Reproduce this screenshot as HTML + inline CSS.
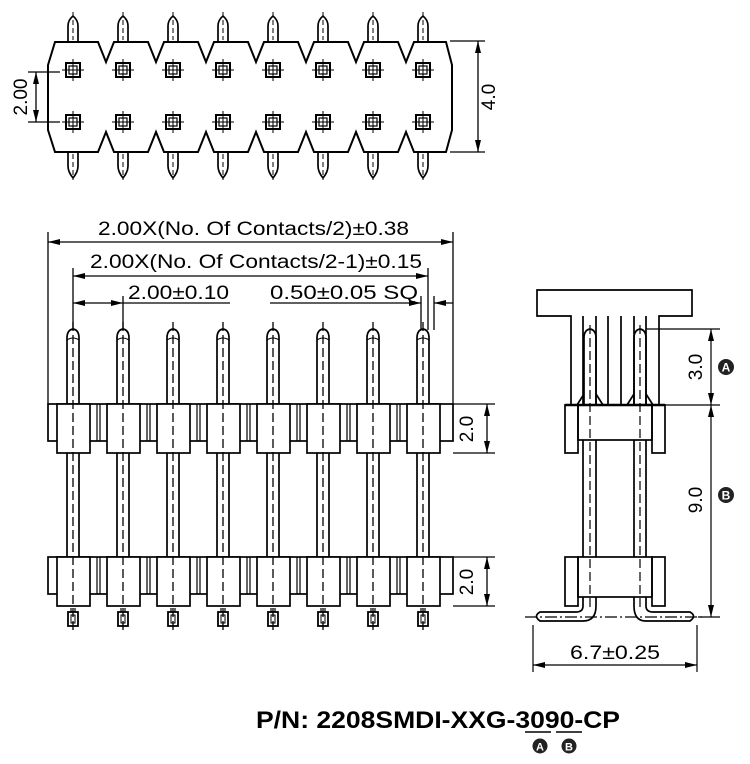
<!DOCTYPE html>
<html><head><meta charset="utf-8"><style>
html,body{margin:0;padding:0;background:#fff;}
svg{display:block;}
text{font-family:"Liberation Sans",Arial,sans-serif;fill:#000;}
</style></head><body>
<svg width="750" height="764" viewBox="0 0 750 764" xmlns="http://www.w3.org/2000/svg">
<defs>
<marker id="ar" viewBox="0 0 12 6" refX="12" refY="3" markerWidth="12" markerHeight="6" orient="auto-start-reverse" markerUnits="userSpaceOnUse"><path d="M0,0L12,3L0,6z" fill="#000"/></marker>
<g id="tp" stroke="#000" fill="none" stroke-width="1.7">
<path d="M-5,42 V26 Q-5,20 0,16 Q5,20 5,26 V42"/>
<path d="M-5,152 V166 Q-5,172 0,178 Q5,172 5,166 V152"/>
<line x1="0" y1="12" x2="0" y2="40" stroke-dasharray="5,3" stroke-width="1"/>
<line x1="0" y1="154" x2="0" y2="180" stroke-dasharray="5,3" stroke-width="1"/>
<rect x="-7" y="63" width="14" height="14" stroke-width="2"/>
<rect x="-4" y="66" width="8" height="8" stroke-width="1.2"/>
<line x1="-11" y1="70" x2="11" y2="70" stroke-width="1"/>
<line x1="0" y1="59" x2="0" y2="81" stroke-width="1"/>
<rect x="-7" y="115" width="14" height="14" stroke-width="2"/>
<rect x="-4" y="118" width="8" height="8" stroke-width="1.2"/>
<line x1="-11" y1="122" x2="11" y2="122" stroke-width="1"/>
<line x1="0" y1="111" x2="0" y2="133" stroke-width="1"/>
</g>
<g id="fp" stroke="#000" fill="none" stroke-width="1.7">
<path d="M-6,404 V338 Q-6,330 0,329 Q6,330 6,338 V404"/>
<path d="M-6,340 Q0,336 6,340" stroke-width="1"/>
<rect x="-16" y="404" width="33" height="49" fill="#fff"/>
<line x1="-6" y1="453" x2="-6" y2="557"/>
<line x1="6" y1="453" x2="6" y2="557"/>
<rect x="-16" y="557" width="33" height="49" fill="#fff"/>
<rect x="-5" y="612" width="10" height="14" stroke-width="1.8"/>
<rect x="-2" y="615" width="4" height="8" stroke-width="1"/>
<line x1="0" y1="322" x2="0" y2="634" stroke-dasharray="9,4" stroke-width="1.3"/>
<line x1="-2" y1="608" x2="-2" y2="612" stroke-width="1.2"/>
<line x1="2" y1="608" x2="2" y2="612" stroke-width="1.2"/>
</g>
</defs>

<path d="M55,42 L98,42 L106,62 L114,42 L148,42 L156,62 L164,42 L198,42 L206,62 L214,42 L248,42 L256,62 L264,42 L298,42 L306,62 L314,42 L348,42 L356,62 L364,42 L398,42 L406,62 L414,42 L446,42 L452,65 L452,130 L446,152 L414,152 L406,132 L398,152 L364,152 L356,132 L348,152 L314,152 L306,132 L298,152 L264,152 L256,132 L248,152 L214,152 L206,132 L198,152 L164,152 L156,132 L148,152 L114,152 L106,132 L98,152 L55,152 L48,130 L48,65 Z" fill="none" stroke="#000" stroke-width="2"/>
<use href="#tp" x="73"/><use href="#tp" x="123"/><use href="#tp" x="173"/><use href="#tp" x="223"/>
<use href="#tp" x="273"/><use href="#tp" x="323"/><use href="#tp" x="373"/><use href="#tp" x="423"/>
<g stroke="#000" stroke-width="1.3">
<line x1="28" y1="72" x2="60" y2="72"/><line x1="28" y1="122" x2="60" y2="122"/>
<line x1="36" y1="72" x2="36" y2="122" marker-start="url(#ar)" marker-end="url(#ar)"/>
<line x1="450" y1="41" x2="485" y2="41"/><line x1="450" y1="152" x2="485" y2="152"/>
<line x1="478" y1="41" x2="478" y2="152" marker-start="url(#ar)" marker-end="url(#ar)"/>
</g>
<text font-size="19" transform="translate(27,97) rotate(-90)" text-anchor="middle">2.00</text>
<text font-size="19" transform="translate(495,97) rotate(-90)" text-anchor="middle">4.0</text>

<rect x="48" y="404" width="405" height="37" fill="none" stroke="#000" stroke-width="1.7"/>
<rect x="48" y="557" width="405" height="37" fill="none" stroke="#000" stroke-width="1.7"/>
<g stroke="#000" stroke-width="1.2">
<line x1="97" y1="404" x2="97" y2="441"/><line x1="100" y1="404" x2="100" y2="441"/>
<line x1="147" y1="404" x2="147" y2="441"/><line x1="150" y1="404" x2="150" y2="441"/>
<line x1="197" y1="404" x2="197" y2="441"/><line x1="200" y1="404" x2="200" y2="441"/>
<line x1="247" y1="404" x2="247" y2="441"/><line x1="250" y1="404" x2="250" y2="441"/>
<line x1="297" y1="404" x2="297" y2="441"/><line x1="300" y1="404" x2="300" y2="441"/>
<line x1="347" y1="404" x2="347" y2="441"/><line x1="350" y1="404" x2="350" y2="441"/>
<line x1="397" y1="404" x2="397" y2="441"/><line x1="400" y1="404" x2="400" y2="441"/>
<line x1="97" y1="557" x2="97" y2="594"/><line x1="100" y1="557" x2="100" y2="594"/>
<line x1="147" y1="557" x2="147" y2="594"/><line x1="150" y1="557" x2="150" y2="594"/>
<line x1="197" y1="557" x2="197" y2="594"/><line x1="200" y1="557" x2="200" y2="594"/>
<line x1="247" y1="557" x2="247" y2="594"/><line x1="250" y1="557" x2="250" y2="594"/>
<line x1="297" y1="557" x2="297" y2="594"/><line x1="300" y1="557" x2="300" y2="594"/>
<line x1="347" y1="557" x2="347" y2="594"/><line x1="350" y1="557" x2="350" y2="594"/>
<line x1="397" y1="557" x2="397" y2="594"/><line x1="400" y1="557" x2="400" y2="594"/>
</g>
<use href="#fp" x="73"/><use href="#fp" x="123"/><use href="#fp" x="173"/><use href="#fp" x="223"/>
<use href="#fp" x="273"/><use href="#fp" x="323"/><use href="#fp" x="373"/><use href="#fp" x="423"/>

<g stroke="#000" stroke-width="1.3" fill="none">
<line x1="48" y1="232" x2="48" y2="404"/><line x1="453" y1="232" x2="453" y2="404"/>
<line x1="48" y1="242" x2="453" y2="242" marker-start="url(#ar)" marker-end="url(#ar)"/>
<line x1="73" y1="268" x2="73" y2="330"/><line x1="428" y1="268" x2="428" y2="330"/>
<line x1="73" y1="276" x2="428" y2="276" marker-start="url(#ar)" marker-end="url(#ar)"/>
<line x1="123" y1="296" x2="123" y2="330"/>
<line x1="73" y1="303" x2="123" y2="303" marker-start="url(#ar)" marker-end="url(#ar)"/>
<line x1="123" y1="303" x2="230" y2="303"/>
<line x1="270" y1="303" x2="421" y2="303" marker-end="url(#ar)"/>
<line x1="434" y1="303" x2="453" y2="303" marker-start="url(#ar)"/>
<line x1="421" y1="296" x2="421" y2="330"/><line x1="434" y1="296" x2="434" y2="330"/>
<line x1="453" y1="404" x2="495" y2="404"/><line x1="453" y1="453" x2="495" y2="453"/>
<line x1="487" y1="404" x2="487" y2="453" marker-start="url(#ar)" marker-end="url(#ar)"/>
<line x1="453" y1="557" x2="495" y2="557"/><line x1="453" y1="606" x2="495" y2="606"/>
<line x1="487" y1="557" x2="487" y2="606" marker-start="url(#ar)" marker-end="url(#ar)"/>
</g>
<text x="98" y="235" font-size="19" textLength="311" lengthAdjust="spacingAndGlyphs">2.00X(No. Of Contacts/2)±0.38</text>
<text x="90" y="268" font-size="19" textLength="332" lengthAdjust="spacingAndGlyphs">2.00X(No. Of Contacts/2-1)±0.15</text>
<text x="128" y="299" font-size="19" textLength="101" lengthAdjust="spacingAndGlyphs">2.00±0.10</text>
<text x="270" y="299" font-size="19" textLength="148" lengthAdjust="spacingAndGlyphs">0.50±0.05 SQ</text>
<text font-size="19" transform="translate(473,429) rotate(-90)" text-anchor="middle">2.0</text>
<text font-size="19" transform="translate(473,582) rotate(-90)" text-anchor="middle">2.0</text>

<g stroke="#000" stroke-width="1.7" fill="none">
<path d="M571,405 V316 H537 V290 H692 V316 H659 V405"/>
<line x1="583" y1="316" x2="583" y2="405"/><line x1="596" y1="316" x2="596" y2="405"/>
<line x1="608" y1="316" x2="608" y2="405"/><line x1="621" y1="316" x2="621" y2="405"/>
<line x1="634" y1="316" x2="634" y2="405"/><line x1="646" y1="316" x2="646" y2="405"/>
<path d="M584,405 V338 Q584,330 590,329 Q596,330 596,338 V405"/>
<path d="M634,405 V338 Q634,330 640,329 Q646,330 646,338 V405"/>
<path d="M577,405 L584,394 M603,405 L596,394 M627,405 L634,394 M653,405 L646,394"/>
<line x1="565" y1="405" x2="665" y2="405" stroke-width="2.6"/>
<rect x="565" y="405" width="13" height="48"/><rect x="652" y="405" width="13" height="48"/>
<rect x="578" y="405" width="74" height="35"/>
<line x1="583" y1="440" x2="583" y2="557"/><line x1="596" y1="440" x2="596" y2="557"/>
<line x1="634" y1="440" x2="634" y2="557"/><line x1="646" y1="440" x2="646" y2="557"/>
<rect x="565" y="557" width="13" height="49"/><rect x="652" y="557" width="13" height="49"/>
<rect x="578" y="557" width="74" height="40"/>
<path d="M583,597 V606 Q583,612 576,612 H540 Q533,616 540,621 H583 Q596,621 596,606 V597"/>
<path d="M646,597 V606 Q646,612 653,612 H690 Q697,616 690,621 H646 Q634,621 634,606 V597"/>
</g>
<g stroke="#000" stroke-width="1.2" fill="none">
<line x1="590" y1="325" x2="590" y2="608" stroke-dasharray="9,4"/>
<line x1="640" y1="325" x2="640" y2="608" stroke-dasharray="9,4"/>
<line x1="525" y1="617" x2="705" y2="617" stroke-dasharray="12,3,2,3"/>
<line x1="646" y1="329" x2="720" y2="329"/>
<line x1="665" y1="405" x2="720" y2="405"/>
<line x1="698" y1="617" x2="720" y2="617"/>
<line x1="711" y1="329" x2="711" y2="405" marker-start="url(#ar)" marker-end="url(#ar)"/>
<line x1="711" y1="405" x2="711" y2="617" marker-start="url(#ar)" marker-end="url(#ar)"/>
<line x1="533" y1="625" x2="533" y2="672"/><line x1="697" y1="625" x2="697" y2="672"/>
<line x1="533" y1="665" x2="697" y2="665" marker-start="url(#ar)" marker-end="url(#ar)"/>
</g>
<text font-size="19" transform="translate(702,367) rotate(-90)" text-anchor="middle">3.0</text>
<text font-size="19" transform="translate(702,500) rotate(-90)" text-anchor="middle">9.0</text>
<circle cx="726" cy="367" r="8" fill="#222"/><text x="726" y="371.5" font-size="12" font-weight="bold" text-anchor="middle" style="fill:#fff">A</text>
<circle cx="726" cy="495" r="8" fill="#222"/><text x="726" y="499.5" font-size="12" font-weight="bold" text-anchor="middle" style="fill:#fff">B</text>
<text x="570" y="659" font-size="19" textLength="90" lengthAdjust="spacingAndGlyphs">6.7±0.25</text>

<text x="256" y="728" font-size="24" font-weight="bold" textLength="364" lengthAdjust="spacingAndGlyphs">P/N: 2208SMDI-XXG-3090-CP</text>
<line x1="525" y1="732" x2="551" y2="732" stroke="#000" stroke-width="1.5"/>
<line x1="556" y1="732" x2="582" y2="732" stroke="#000" stroke-width="1.5"/>
<circle cx="540" cy="746" r="7.5" fill="#222"/><text x="540" y="750.5" font-size="11" font-weight="bold" text-anchor="middle" style="fill:#fff">A</text>
<circle cx="569" cy="746" r="7.5" fill="#222"/><text x="569" y="750.5" font-size="11" font-weight="bold" text-anchor="middle" style="fill:#fff">B</text>
</svg>
</body></html>
